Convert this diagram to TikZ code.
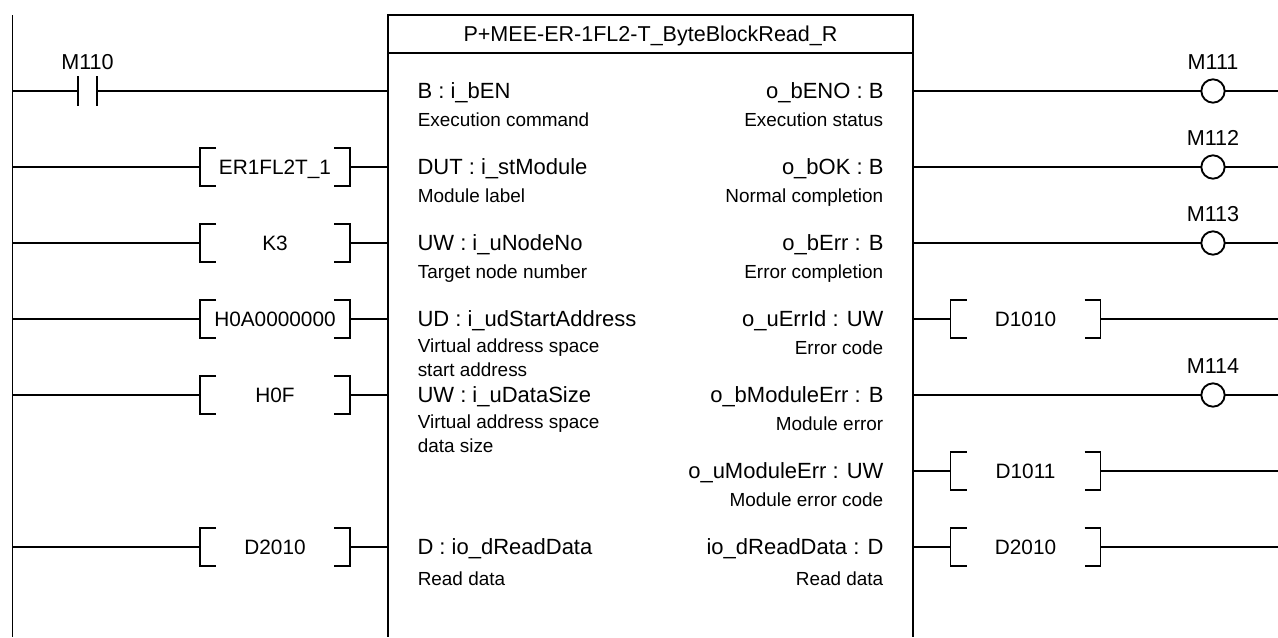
\documentclass[tikz,border=0pt]{standalone}
\usepackage{fontspec}
\setmainfont{Liberation Sans}
\usetikzlibrary{positioning,calc}

\begin{document}
\begin{tikzpicture}[
    x=0.75pt, y=-0.75pt,
    wire/.style={draw=black, line width=1.4pt},
    label/.style={font=\fontsize{15.6pt}{18pt}\selectfont, inner sep=0pt, outer sep=0pt},
    param/.style={label, font=\fontsize{16.5pt}{18pt}\selectfont, anchor=base west},
    paramr/.style={label, font=\fontsize{16.5pt}{18pt}\selectfont, anchor=base east},
    desc/.style={font=\fontsize{14.2pt}{17.4pt}\selectfont, inner sep=0pt, anchor=base west},
    descr/.style={font=\fontsize{14.2pt}{17.4pt}\selectfont, inner sep=0pt, anchor=base east},
    operand/.style={label, minimum width=112.5pt, minimum height=28.5pt, text height=10.5pt, text depth=0pt},
    tag/.style={label, font=\fontsize{16.2pt}{18pt}\selectfont, anchor=base},
    coil/.style={circle, wire, fill=white, minimum size=17.5pt, inner sep=0pt, outer sep=0pt},
    contact/.style={minimum width=14.25pt, minimum height=22.5pt, inner sep=0pt, outer sep=0pt}
]
    \useasboundingbox (0,0) rectangle (1278,637);

    % left rail and function block
    \coordinate (railtop) at (12.5,15);
    \coordinate (railend) at (12.5,637);
    \draw[wire] (railtop) -- (railend);
    \node[wire, draw, label, font=\fontsize{16.15pt}{18pt}\selectfont, minimum width=393.75pt, minimum height=28.5pt, text height=10.5pt, text depth=0pt] (title) at (650.5,34) {P+MEE-ER-1FL2-T\_ByteBlockRead\_R};
    \coordinate (blockl) at (388,637);
    \coordinate (blockr) at (913,637);
    \draw[wire] (title.south west) -- (blockl);
    \draw[wire] (title.south east) -- (blockr);

    % input contact
    \coordinate (rail1) at (12.5,91);
    \coordinate (pin1) at (388,91);
    \node[contact] (m110) at (87.5,91) {};
    \draw[wire] (m110.north west) -- (m110.south west);
    \draw[wire] (m110.north east) -- (m110.south east);
    \draw[wire] (rail1) -- (m110.west);
    \draw[wire] (m110.east) -- (pin1);
    \node[tag] (m110tag) at (87.5,69.5) {M110};

    % input operands
    \foreach \n/\ypos/\val in {2/167/ER1FL2T\_1, 3/243/K3, 4/319/H0A0000000, 5/395/H0F, 7/547/D2010} {
        \coordinate (rail\n) at (12.5,\ypos);
        \coordinate (pin\n) at (388,\ypos);
        \node[operand] (op\n) at (275,\ypos) {\val};
        \draw[wire] (rail\n) -- (op\n.west);
        \draw[wire] (op\n.east) -- (pin\n);
        \draw[wire] ([xshift=12pt]op\n.north west) -- (op\n.north west) -- (op\n.south west) -- ([xshift=12pt]op\n.south west);
        \draw[wire] ([xshift=-12pt]op\n.north east) -- (op\n.north east) -- (op\n.south east) -- ([xshift=-12pt]op\n.south east);
    }

    % output coils
    \foreach \n/\ypos/\val in {1/91/M111, 2/167/M112, 3/243/M113, 5/395/M114} {
        \coordinate (pout\n) at (913,\ypos);
        \coordinate (end\n) at (1278,\ypos);
        \node[coil] (coil\n) at (1213,\ypos) {};
        \draw[wire] (pout\n) -- (coil\n.west);
        \draw[wire] (coil\n.east) -- (end\n);
        \node[tag] (tag\n) at (1213,\ypos-21.5) {\val};
    }

    % output operands
    \foreach \n/\ypos/\val in {4/319/D1010, 6/471/D1011, 7/547/D2010} {
        \coordinate (pout\n) at (913,\ypos);
        \coordinate (end\n) at (1278,\ypos);
        \node[operand] (res\n) at (1025.5,\ypos) {\val};
        \draw[wire] (pout\n) -- (res\n.west);
        \draw[wire] (res\n.east) -- (end\n);
        \draw[wire] ([xshift=12pt]res\n.north west) -- (res\n.north west) -- (res\n.south west) -- ([xshift=12pt]res\n.south west);
        \draw[wire] ([xshift=-12pt]res\n.north east) -- (res\n.north east) -- (res\n.south east) -- ([xshift=-12pt]res\n.south east);
    }

    % block inputs
    \foreach \n/\ypos/\dy/\val/\txt in {
        ben/91/35/B : i\_bEN/Execution command,
        stmodule/167/35/DUT : i\_stModule/Module label,
        unode/243/35/UW : i\_uNodeNo/Target node number,
        start/319/33.7/UD : i\_udStartAddress/Virtual address space,
        size/395/33.7/UW : i\_uDataSize/Virtual address space,
        rdata/547/38/D : io\_dReadData/Read data} {
        \node[param] (in\n) at (417.5,\ypos+7) {\val};
        \node[desc] (intxt\n) at (417.5,\ypos+\dy) {\txt};
    }
    \node[desc] (intxtstart2) at (417.5,376) {start address};
    \node[desc] (intxtsize2) at (417.5,452) {data size};

    % block outputs
    \foreach \n/\ypos/\dy/\val/\txt in {
        beno/91/35/o\_bENO : B/Execution status,
        bok/167/35/o\_bOK : B/Normal completion,
        berr/243/35/o\_bErr : B/Error completion,
        uerr/319/35/o\_uErrId : UW/Error code,
        bmod/395/35/o\_bModuleErr : B/Module error,
        umod/471/35/o\_uModuleErr : UW/Module error code,
        rdata/547/38/io\_dReadData : D/Read data} {
        \node[paramr] (out\n) at (883.5,\ypos+7) {\val};
        \node[descr] (outtxt\n) at (883.5,\ypos+\dy) {\txt};
    }
\end{tikzpicture}
\end{document}
